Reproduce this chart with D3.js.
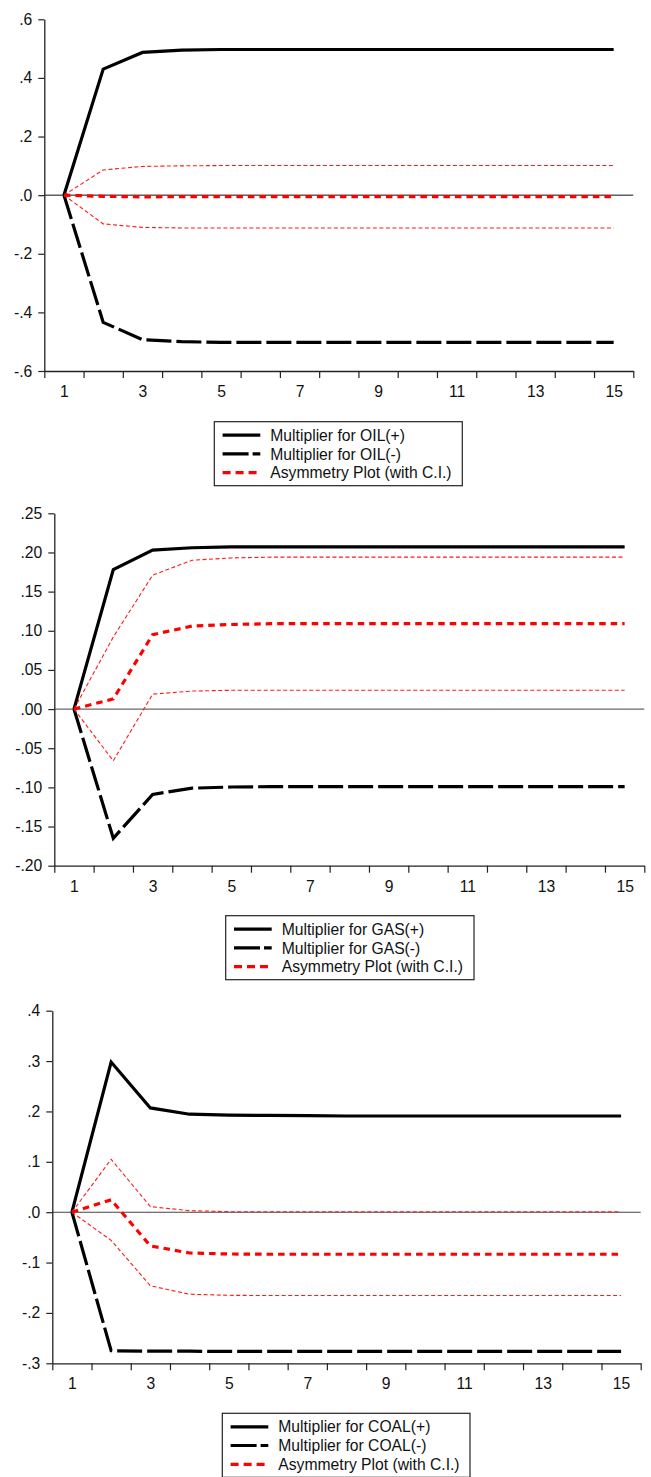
<!DOCTYPE html>
<html>
<head>
<meta charset="utf-8">
<script src="https://cdn.jsdelivr.net/npm/d3@7"></script>
<style>
  html, body { margin: 0; padding: 0; background: #fff; }
  svg { display: block; }
  text { font-family: "Liberation Sans", Arial, sans-serif; fill: #111; }
</style>
</head>
<body>
<svg id="chart" width="651" height="1477"></svg>
<script>
// Horizon (periods) shared by the three multiplier panels
const periods = [1, 2, 3, 4, 5, 6, 7, 8, 9, 10, 11, 12, 13, 14, 15];
const periodLabels = [1, 3, 5, 7, 9, 11, 13, 15];

// OIL dynamic multipliers
const oilPos   = [0, 0.430, 0.487, 0.495, 0.497, 0.497, 0.497, 0.497, 0.497, 0.497, 0.497, 0.497, 0.497, 0.497, 0.497];
const oilNeg   = [0, -0.434, -0.493, -0.500, -0.502, -0.502, -0.502, -0.502, -0.502, -0.502, -0.502, -0.502, -0.502, -0.502, -0.502];
const oilAsym  = [0, -0.004, -0.006, -0.005, -0.005, -0.005, -0.005, -0.005, -0.005, -0.005, -0.005, -0.005, -0.005, -0.005, -0.005];
const oilUpper = [0, 0.086, 0.098, 0.100, 0.101, 0.101, 0.101, 0.101, 0.101, 0.101, 0.101, 0.101, 0.101, 0.101, 0.101];
const oilLower = [0, -0.098, -0.110, -0.112, -0.112, -0.112, -0.112, -0.112, -0.112, -0.112, -0.112, -0.112, -0.112, -0.112, -0.112];
const oilTicks = [-0.6, -0.4, -0.2, 0, 0.2, 0.4, 0.6];

// GAS dynamic multipliers
const gasPos   = [0, 0.178, 0.203, 0.206, 0.207, 0.207, 0.207, 0.207, 0.207, 0.207, 0.207, 0.207, 0.207, 0.207, 0.207];
const gasNeg   = [0, -0.165, -0.109, -0.101, -0.0995, -0.099, -0.099, -0.099, -0.099, -0.099, -0.099, -0.099, -0.099, -0.099, -0.099];
const gasAsym  = [0, 0.013, 0.095, 0.106, 0.108, 0.109, 0.109, 0.109, 0.109, 0.109, 0.109, 0.109, 0.109, 0.109, 0.109];
const gasUpper = [0, 0.092, 0.171, 0.190, 0.193, 0.194, 0.194, 0.194, 0.194, 0.194, 0.194, 0.194, 0.194, 0.194, 0.194];
const gasLower = [0, -0.066, 0.019, 0.023, 0.024, 0.024, 0.024, 0.024, 0.024, 0.024, 0.024, 0.024, 0.024, 0.024, 0.024];
const gasTicks = [-0.20, -0.15, -0.10, -0.05, 0, 0.05, 0.10, 0.15, 0.20, 0.25];

// COAL dynamic multipliers
const coalPos   = [0, 0.298, 0.207, 0.1945, 0.1925, 0.192, 0.1915, 0.191, 0.191, 0.191, 0.191, 0.191, 0.191, 0.191, 0.191];
const coalNeg   = [0, -0.275, -0.276, -0.276, -0.2765, -0.2765, -0.2765, -0.2765, -0.2765, -0.2765, -0.2765, -0.2765, -0.2765, -0.2765, -0.2765];
const coalAsym  = [0, 0.0245, -0.067, -0.081, -0.083, -0.0835, -0.0835, -0.0835, -0.0835, -0.0835, -0.0835, -0.0835, -0.0835, -0.0835, -0.0835];
const coalUpper = [0, 0.105, 0.011, 0.003, 0.001, 0.001, 0.001, 0.001, 0.001, 0.001, 0.001, 0.001, 0.001, 0.001, 0.001];
const coalLower = [0, -0.056, -0.146, -0.163, -0.165, -0.1655, -0.1655, -0.1655, -0.1655, -0.1655, -0.1655, -0.1655, -0.1655, -0.1655, -0.1655];
const coalTicks = [-0.3, -0.2, -0.1, 0, 0.1, 0.2, 0.3, 0.4];

const svg = d3.select("#chart");
const FONT = 15.7;

// Stroke styles for the series
const styles = {
  pos:   { stroke: "#000", width: 3.2, dash: null },
  neg:   { stroke: "#000", width: 3.2, dash: "25,5" },
  ci:    { stroke: "#ff1a1a", width: 1.1, dash: "4,2.5" },
  asym:  { stroke: "#ff0000", width: 3.2, dash: "6.5,5" }
};

function fmtTick(decimals) {
  return v => {
    const s = Math.abs(v).toFixed(decimals).replace(/^0/, "");
    return (v < -1e-9 ? "-" : "") + s;
  };
}

function drawPanel(cfg) {
  const g = svg.append("g");
  const x = d3.scaleLinear().domain([0.5, 15.5]).range([cfg.left, cfg.right]);
  const y = d3.scaleLinear().domain([cfg.ticks[0], cfg.ticks[cfg.ticks.length - 1]]).range([cfg.bottom, cfg.top]);

  // zero reference line
  g.append("line")
    .attr("x1", cfg.left).attr("x2", cfg.right)
    .attr("y1", y(0)).attr("y2", y(0))
    .attr("stroke", cfg.zeroColor).attr("stroke-width", cfg.zeroWidth);

  const line = d3.line().x((d, i) => x(periods[i])).y(d => y(d));
  const series = [
    { v: cfg.pos, s: styles.pos },
    { v: cfg.neg, s: styles.neg },
    { v: cfg.upper, s: styles.ci },
    { v: cfg.lower, s: styles.ci },
    { v: cfg.asym, s: styles.asym }
  ];
  series.forEach(sr => {
    g.append("path")
      .attr("d", line(sr.v))
      .attr("fill", "none")
      .attr("stroke", sr.s.stroke)
      .attr("stroke-width", sr.s.width)
      .attr("stroke-dasharray", sr.s.dash)
      .attr("stroke-linejoin", "miter");
  });

  // y axis
  const yAxis = d3.axisLeft(y).tickValues(cfg.ticks).tickFormat(fmtTick(cfg.decimals))
    .tickSize(6).tickPadding(6).tickSizeOuter(0);
  const ya = g.append("g").attr("transform", `translate(${cfg.left},0)`).call(yAxis);

  // x axis: ticks on period boundaries, labels on odd periods
  const bounds = [0.5, 1.5, 2.5, 3.5, 4.5, 5.5, 6.5, 7.5, 8.5, 9.5, 10.5, 11.5, 12.5, 13.5, 14.5, 15.5];
  const xAxis = d3.axisBottom(x).tickValues(bounds).tickFormat("").tickSize(7).tickSizeOuter(0);
  const xa = g.append("g").attr("transform", `translate(0,${cfg.bottom})`).call(xAxis);
  const xLab = d3.axisBottom(x).tickValues(periodLabels).tickFormat(d3.format("d"))
    .tickSize(0).tickPadding(15);
  const xl = g.append("g").attr("transform", `translate(0,${cfg.bottom})`).call(xLab);
  xl.select(".domain").remove();

  [ya, xa, xl].forEach(a => {
    a.selectAll("text").style("font-size", FONT + "px").attr("fill", "#111")
      .style("font-family", '"Liberation Sans", Arial, sans-serif');
    a.selectAll("line").attr("stroke", "#222").attr("stroke-width", 1.2);
    a.select(".domain").attr("stroke", "#222").attr("stroke-width", 1.3);
  });

  // legend
  const L = cfg.legend;
  const lg = svg.append("g");
  lg.append("rect")
    .attr("x", L.x).attr("y", L.y).attr("width", L.w).attr("height", 64)
    .attr("fill", "#fff").attr("stroke", "#222").attr("stroke-width", 1.2);
  const items = [
    { label: cfg.names[0], s: styles.pos, dash: null },
    { label: cfg.names[1], s: styles.neg, dash: "26,4" },
    { label: cfg.names[2], s: styles.asym, dash: "8,5" }
  ];
  const rowOff = [13.5, 32.2, 51];
  items.forEach((it, i) => {
    const yy = L.y + rowOff[i];
    lg.append("line")
      .attr("x1", L.x + 8.3).attr("x2", L.x + 46)
      .attr("y1", yy).attr("y2", yy)
      .attr("stroke", it.s.stroke).attr("stroke-width", 3.2)
      .attr("stroke-dasharray", it.dash);
    lg.append("text")
      .attr("x", L.x + 56).attr("y", yy).attr("dy", "0.36em")
      .style("font-size", FONT + "px")
      .text(it.label);
  });
}

drawPanel({
  left: 44.3, right: 633.3, top: 19.3, bottom: 371,
  ticks: oilTicks, decimals: 1, zeroColor: "#111", zeroWidth: 1,
  pos: oilPos, neg: oilNeg, asym: oilAsym, upper: oilUpper, lower: oilLower,
  names: ["Multiplier for OIL(+)", "Multiplier for OIL(-)", "Asymmetry Plot (with C.I.)"],
  legend: { x: 214.3, y: 421.7, w: 248 }
});

drawPanel({
  left: 54.3, right: 644.3, top: 513.3, bottom: 865.7,
  ticks: gasTicks, decimals: 2, zeroColor: "#6a6a6a", zeroWidth: 1.3,
  pos: gasPos, neg: gasNeg, asym: gasAsym, upper: gasUpper, lower: gasLower,
  names: ["Multiplier for GAS(+)", "Multiplier for GAS(-)", "Asymmetry Plot (with C.I.)"],
  legend: { x: 225.7, y: 915.7, w: 248.3 }
});

drawPanel({
  left: 52.3, right: 640.7, top: 1010.7, bottom: 1363.3,
  ticks: coalTicks, decimals: 1, zeroColor: "#444", zeroWidth: 1.1,
  pos: coalPos, neg: coalNeg, asym: coalAsym, upper: coalUpper, lower: coalLower,
  names: ["Multiplier for COAL(+)", "Multiplier for COAL(-)", "Asymmetry Plot (with C.I.)"],
  legend: { x: 222.3, y: 1413.3, w: 247.7 }
});
</script>
</body>
</html>
